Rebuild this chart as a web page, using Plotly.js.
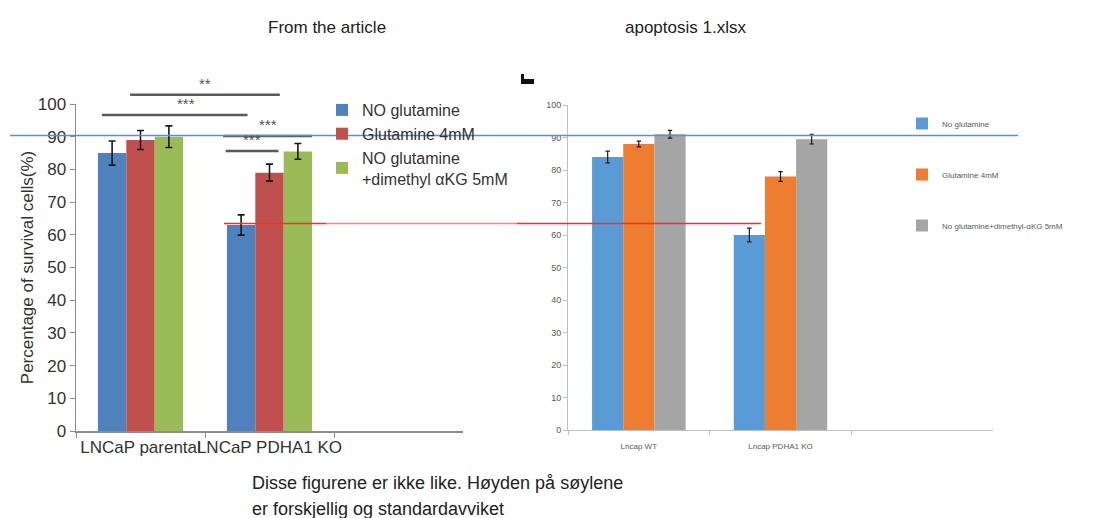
<!DOCTYPE html>
<html>
<head>
<meta charset="utf-8">
<script src="https://cdn.plot.ly/plotly-3.0.1.min.js"></script>
<style>
  html, body { margin: 0; padding: 0; background: #ffffff; }
  #chart { width: 1118px; height: 518px; }
</style>
</head>
<body>
<div id="chart"></div>
<script>
// ---- Published figure ----
const articleGroups = ["LNCaP parental", "LNCaP PDHA1 KO"];
const articleSeries = ["NO glutamine", "Glutamine 4mM", "NO glutamine<br>+dimethyl αKG 5mM"];
const articleNoGln = [85, 63];
const articleNoGlnSd = [3.7, 3.1];
const articleGln = [89, 79];
const articleGlnSd = [2.9, 2.6];
const articleAkg = [90, 85.5];
const articleAkgSd = [3.3, 2.4];

// ---- Spreadsheet (apoptosis 1.xlsx) ----
const xlsxGroups = ["Lncap WT", "Lncap PDHA1 KO"];
const xlsxSeries = ["No glutamine", "Glutamine 4mM", "No glutamine+dimethyl-αKG 5mM"];
const xlsxNoGln = [84, 60];
const xlsxNoGlnSd = [1.8, 2.1];
const xlsxGln = [88, 78];
const xlsxGlnSd = [0.9, 1.5];
const xlsxAkg = [91, 89.5];
const xlsxAkgSd = [1.2, 1.5];

// significance brackets on the published figure (category index, % survival)
const sigFrom = [-0.08, -0.30, 0.64, 0.66];
const sigTo = [1.08, 0.83, 1.33, 1.07];
const sigLevel = [102.8, 96.6, 90.2, 85.6];
const sigLabel = ["**", "***", "***", "***"];

const W = 1118, H = 518;
const catRange = [-0.5, 2.5];
const valRange = [0, 100];
const xd = v => (v - catRange[0]) / (catRange[1] - catRange[0]);
const yd = v => (v - valRange[0]) / (valRange[1] - valRange[0]);
const px = v => v / W;
const py = v => (H - v) / H;

const ARIAL = "Liberation Sans, Arial, sans-serif";

function bar(name, x, y, sd, color, xa, ya, legend, errW, errT, group) {
  return {
    type: "bar", name: name, x: x, y: y,
    xaxis: xa, yaxis: ya, legend: legend, legendgroup: group,
    marker: { color: color, line: { width: 0 } },
    error_y: { type: "data", array: sd, visible: true, color: "#1a1a1a", thickness: errT, width: errW },
    hoverinfo: "x+y"
  };
}

const data = [
  bar(articleSeries[0], articleGroups, articleNoGln, articleNoGlnSd, "#4f81bd", "x", "y", "legend", 3.5, 1.6, "a1"),
  bar(articleSeries[1], articleGroups, articleGln, articleGlnSd, "#c0504d", "x", "y", "legend", 3.5, 1.6, "a2"),
  bar(articleSeries[2], articleGroups, articleAkg, articleAkgSd, "#9bbb59", "x", "y", "legend", 3.5, 1.6, "a3"),
  bar(xlsxSeries[0], xlsxGroups, xlsxNoGln, xlsxNoGlnSd, "#5b9bd5", "x2", "y2", "legend2", 2.2, 1.2, "b1"),
  bar(xlsxSeries[1], xlsxGroups, xlsxGln, xlsxGlnSd, "#ed7d31", "x2", "y2", "legend2", 2.2, 1.2, "b2"),
  bar(xlsxSeries[2], xlsxGroups, xlsxAkg, xlsxAkgSd, "#a5a5a5", "x2", "y2", "legend2", 2.2, 1.2, "b3")
];

const shapes = [];
const annotations = [];

// brackets and stars
for (let i = 0; i < sigLevel.length; i++) {
  shapes.push({
    type: "line", xref: "x domain", yref: "y domain",
    x0: xd(sigFrom[i]), x1: xd(sigTo[i]), y0: yd(sigLevel[i]), y1: yd(sigLevel[i]),
    line: { color: "#5a5a5a", width: 2.5 }
  });
  annotations.push({
    xref: "x domain", yref: "y domain",
    x: xd((sigFrom[i] + sigTo[i]) / 2), y: yd(sigLevel[i]) + 0.002,
    yanchor: "bottom", showarrow: false, text: sigLabel[i],
    font: { family: ARIAL, size: 15, color: "#555555" }
  });
}

// comparison guide lines across both panels
shapes.push({ type: "line", xref: "paper", yref: "paper", x0: px(10), x1: px(1018), y0: py(135.5), y1: py(135.5),
  line: { color: "#4f93d8", width: 1.5 } });
shapes.push({ type: "line", xref: "paper", yref: "paper", x0: px(224), x1: px(326), y0: py(223.5), y1: py(223.5),
  line: { color: "#ff2a2a", width: 1.4 } });
shapes.push({ type: "line", xref: "paper", yref: "paper", x0: px(326), x1: px(517), y0: py(223.5), y1: py(223.5),
  line: { color: "#ff8585", width: 1.4 } });
shapes.push({ type: "line", xref: "paper", yref: "paper", x0: px(517), x1: px(761), y0: py(223.5), y1: py(223.5),
  line: { color: "#ff2a2a", width: 1.4 } });

// small dark mark above the spreadsheet panel
shapes.push({ type: "path", xref: "paper", yref: "paper",
  path: "M" + px(521) + "," + py(74) + " L" + px(524) + "," + py(74) + " L" + px(524) + "," + py(79) +
        " L" + px(534) + "," + py(79) + " L" + px(534) + "," + py(84) + " L" + px(521) + "," + py(84) + " Z",
  fillcolor: "#111111", line: { width: 0 } });

// headings and note
annotations.push({ xref: "paper", yref: "paper", x: px(266), y: py(27), yanchor: "middle", showarrow: false,
  text: "From the article", font: { family: ARIAL, size: 17, color: "#222222" } });
annotations.push({ xref: "paper", yref: "paper", x: px(748), y: py(27), yanchor: "middle", showarrow: false,
  text: "apoptosis 1.xlsx", font: { family: ARIAL, size: 17, color: "#222222" } });
annotations.push({ xref: "paper", yref: "paper", x: px(250), y: py(483), xanchor: "left", yanchor: "middle", showarrow: false,
  text: "Disse figurene er ikke like. Høyden på søylene", font: { family: ARIAL, size: 18, color: "#222222" } });
annotations.push({ xref: "paper", yref: "paper", x: px(250), y: py(509), xanchor: "left", yanchor: "middle", showarrow: false,
  text: "er forskjellig og standardavviket", font: { family: ARIAL, size: 18, color: "#222222" } });

const layout = {
  width: W, height: H,
  margin: { l: 0, r: 0, t: 0, b: 0 },
  paper_bgcolor: "#ffffff", plot_bgcolor: "rgba(0,0,0,0)",
  barmode: "group", bargap: 0.34, bargroupgap: 0,
  showlegend: true,
  font: { family: ARIAL },
  xaxis: {
    domain: [px(76), px(463)], anchor: "y", type: "category", range: catRange,
    showline: true, linecolor: "#8c8c8c", linewidth: 1.5,
    ticks: "outside", tickson: "boundaries", ticklen: 5, tickcolor: "#8c8c8c", tickangle: 0,
    tickfont: { family: ARIAL, size: 17, color: "#333333" }, showgrid: false, zeroline: false
  },
  yaxis: {
    domain: [py(431), py(104)], anchor: "x", range: valRange, dtick: 10,
    showline: true, linecolor: "#8c8c8c", linewidth: 1.5,
    ticks: "outside", ticklen: 5, tickcolor: "#8c8c8c",
    tickfont: { family: ARIAL, size: 17, color: "#333333" }, showgrid: false, zeroline: false,
    title: { text: "Percentage of survival cells(%)", font: { family: ARIAL, size: 17, color: "#333333" }, standoff: 0 }
  },
  xaxis2: {
    domain: [px(568), px(993)], anchor: "y2", type: "category", range: catRange,
    showline: true, linecolor: "#bfbfbf", linewidth: 1,
    ticks: "outside", tickson: "boundaries", ticklen: 4, tickcolor: "#bfbfbf", tickangle: 0,
    ticklabelstandoff: 8,
    tickfont: { family: ARIAL, size: 8, color: "#595959" }, showgrid: false, zeroline: false
  },
  yaxis2: {
    domain: [py(430), py(105)], anchor: "x2", range: valRange, dtick: 10,
    showline: true, linecolor: "#bfbfbf", linewidth: 1,
    ticks: "outside", ticklen: 4, tickcolor: "#bfbfbf",
    tickfont: { family: ARIAL, size: 9, color: "#595959" }, showgrid: false, zeroline: false
  },
  legend: {
    x: px(322), y: py(93), xanchor: "left", yanchor: "top",
    bgcolor: "rgba(0,0,0,0)", borderwidth: 0, traceorder: "normal",
    font: { family: ARIAL, size: 16, color: "#333333" }
  },
  legend2: {
    x: px(902), y: py(109), xanchor: "left", yanchor: "top",
    bgcolor: "rgba(0,0,0,0)", borderwidth: 0, traceorder: "grouped",
    font: { family: ARIAL, size: 8, color: "#595959" }, tracegroupgap: 32
  },
  shapes: shapes,
  annotations: annotations
};

Plotly.newPlot("chart", data, layout, { staticPlot: true, displayModeBar: false });
</script>
</body>
</html>
